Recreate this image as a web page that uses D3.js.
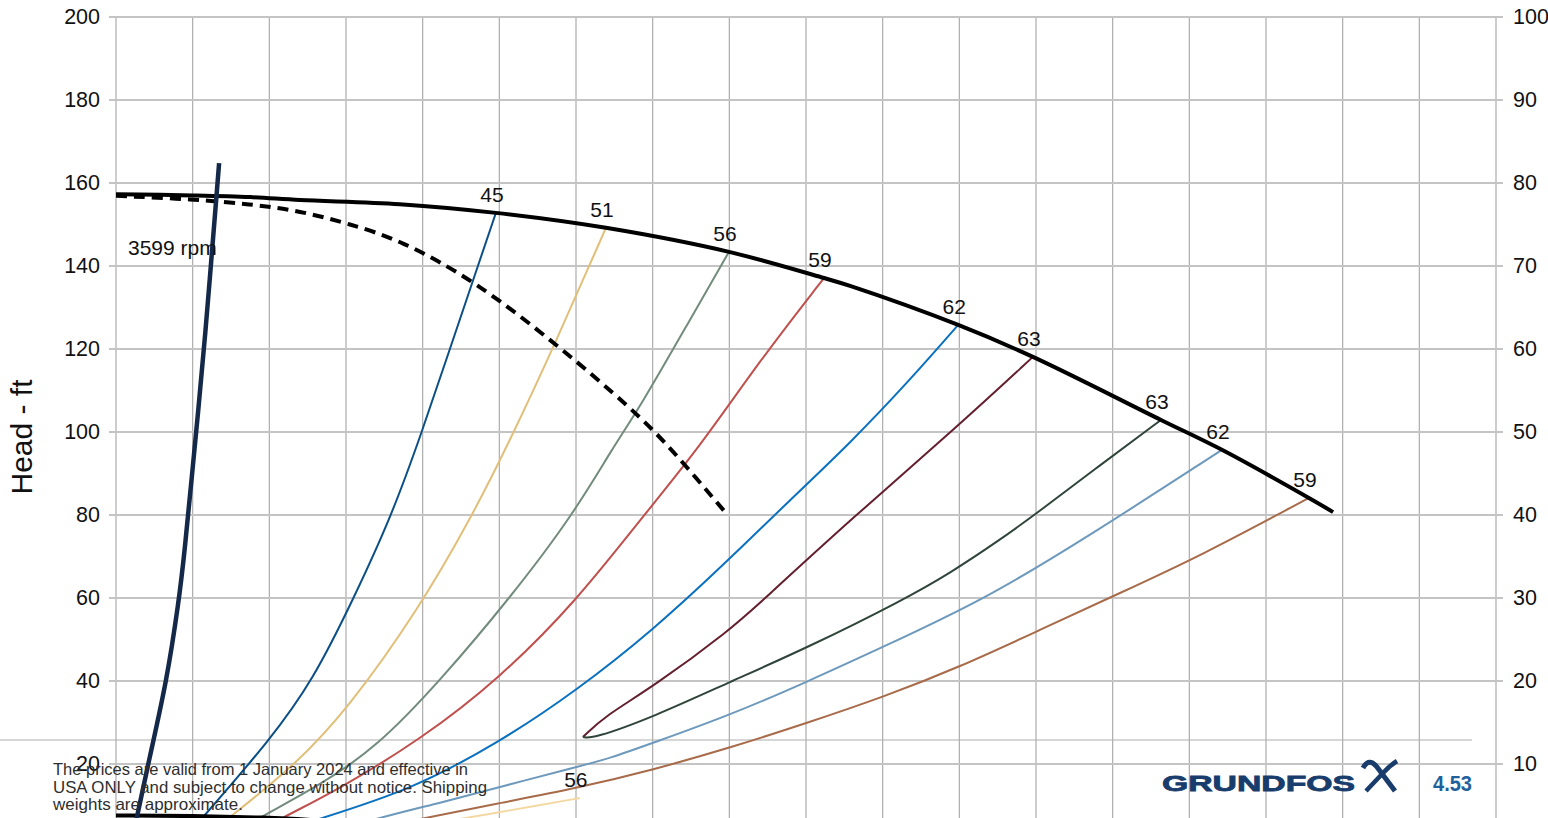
<!DOCTYPE html>
<html>
<head>
<meta charset="utf-8">
<script src="https://cdn.jsdelivr.net/npm/d3@7"></script>
<style>
  body { margin: 0; background: #fff; overflow: hidden; }
  text { font-family: "Liberation Sans", Arial, sans-serif; }
</style>
</head>
<body>
<svg id="chart" width="1548" height="818"></svg>
<script>
// tick values for the grid and both axes
const flowTicks = [0,20,40,60,80,100,120,140,160,180,200,220,240,260,280,300,320,340,360];
const headTicks = [20,40,60,80,100,120,140,160,180,200];
const rightTicks = [10,20,30,40,50,60,70,80,90,100];

// pump curve at full diameter and the dashed reduced curve  [flow, head ft]
const headCurve = [[0,157.3],[20,157.0],[35,156.6],[48,155.9],[74,154.9],[99.1,152.8],[127.8,149.2],
  [159.9,143.4],[184.7,137.1],[191.5,135.2],[219.7,125.8],[239.2,118.1],[272.6,102.9],
  [288.5,95.7],[311.2,84.1],[317.5,80.7]];
const dashedCurve = [[0,156.9],[20.1,156.1],[35,154.9],[48,153.3],[61,150.1],[74.1,146.3],
  [93.7,136.4],[115.8,120.5],[134.9,105.3],[144.5,96.4],[158.9,80.7]];
const speedLine = [[26.9,164.8],[23.0,119.8],[20.9,100],[17.7,69.2],[16.4,59.5],[13.3,40.2],
  [8.6,21.0],[5.5,7.2],[3.7,0]];
const bottomCurve = [[0,7.6],[20,7.5],[40,7.1],[50,6.6],[60,5.8]];

// iso-efficiency lines (percent), each ends on the pump curve
const eta45 = [[15.9,0],[22.7,7.2],[40.2,25.8],[51.4,40.2],[61.8,59.5],[72.0,80.0],[79.8,100.0],
  [87.1,120.0],[94.4,140.0],[99.1,152.8]];
const eta51 = [[19.8,0],[29.7,7.2],[46.2,19.3],[60.3,33.0],[79.3,57.8],[92.3,78.8],[102.0,96.4],
  [115.0,122.2],[127.8,149.2]];
const eta56 = [[24.5,0],[37.6,7.2],[53.2,14.9],[68.1,24.1],[84.5,40.0],[102.8,60.0],[119.2,80.0],
  [129.7,96.4],[136.7,106.0],[149.7,127.0],[159.9,143.4]];
const eta59 = [[29.7,0],[43.6,7.2],[57.7,13.7],[79.3,25.8],[100.2,40.7],[120.3,59.5],[136.7,78.8],
  [152.3,96.4],[168.0,117.3],[184.7,137.1]];
const eta62 = [[30.0,0],[54.5,7.2],[76.7,13.7],[100.2,25.3],[120.3,37.8],[140.1,52.3],[157.6,67.2],
  [175.8,83.6],[191.5,97.3],[207.1,112.5],[219.7,125.8]];
const eta63a = [[121.8,26.5],[127.6,31.6],[140.1,38.6],[160.2,52.3],[168.8,59.5],[191.5,78.8],
  [219.4,101.2],[239.2,118.1]];
const eta63b = [[121.8,26.5],[124.4,26.1],[140.1,31.3],[160.2,39.8],[180.3,48.0],[205.3,59.5],
  [217.6,66.0],[230.6,74.0],[240.3,80.5],[256.7,92.0],[272.6,102.9]];
const eta62b = [[42.8,0],[68.9,7.2],[84.5,10.6],[100.2,14.5],[120.3,19.3],[128.9,21.4],[140.1,25.1],
  [160.2,31.8],[180.3,39.8],[200.1,48.2],[226.2,59.5],[252.3,74.0],[288.5,95.7]];
const eta59b = [[42.8,0],[81.9,7.2],[100.2,10.6],[120.3,14.2],[140.1,18.6],[160.2,23.9],[180.3,29.9],
  [200.1,36.1],[220.2,43.4],[241.0,52.3],[261.9,61.2],[282.8,70.1],[311.2,84.1]];
const eta56b = [[48.0,0],[92.3,7.2],[100.2,8.4],[121.0,11.8]];

const isoLabels = ["45","51","56","59","62","63","63","62","59","56"];
const isoSeries = [eta45, eta51, eta56, eta59, eta62, eta63a, eta63b, eta62b, eta59b, eta56b];
const isoColors = ["#0b4f86","#e2bf78","#728b7d","#c0504d","#0a70c0","#641f2e","#2f443a","#6d99bd","#a86b4a","#f4d8a2"];

const rpmLabel = "3599 rpm";
const footerLines = ["The prices are valid from 1 January 2024 and effective in",
  "USA ONLY and subject to change without notice. Shipping",
  "weights are approximate."];

const svg = d3.select("#chart");
const plotLeft = 116, plotRight = 1496, plotTop = 17, plotBottom = 818;

const x = d3.scaleLinear().domain([0, 360]).range([plotLeft, plotRight]);
const y = d3.scaleLinear().domain([0, 200]).range([847, plotTop]);
const y2 = d3.scaleLinear().domain([0, 100]).range([847, plotTop]);

svg.append("defs").append("clipPath").attr("id", "plot")
  .append("rect").attr("x", plotLeft).attr("y", plotTop)
  .attr("width", plotRight - plotLeft).attr("height", plotBottom - plotTop);

// page separator line behind the chart
svg.append("line")
  .attr("x1", 0).attr("x2", 1472).attr("y1", 740).attr("y2", 740)
  .attr("stroke", "#d6d6d6").attr("stroke-width", 2);

// grid
svg.append("g").selectAll("line").data(flowTicks).enter().append("line")
  .attr("x1", d => x(d)).attr("x2", d => x(d))
  .attr("y1", plotTop).attr("y2", plotBottom)
  .attr("stroke", "#acacac").attr("stroke-width", 1.2);

svg.append("g").selectAll("line").data(headTicks).enter().append("line")
  .attr("x1", plotLeft - 7).attr("x2", plotRight + 7)
  .attr("y1", d => y(d)).attr("y2", d => y(d))
  .attr("stroke", "#c4c4c4").attr("stroke-width", 1.8);

// axes labels
const leftAxis = d3.axisLeft(y).tickValues(headTicks).tickSize(0).tickPadding(16);
svg.append("g").attr("transform", `translate(${plotLeft},0)`).call(leftAxis)
  .call(g => g.select(".domain").remove())
  .selectAll("text").attr("font-size", 21.5).attr("fill", "#111")
  .attr("font-family", "Liberation Sans, Arial, sans-serif");

const rightAxis = d3.axisRight(y2).tickValues(rightTicks).tickSize(0).tickPadding(17);
svg.append("g").attr("transform", `translate(${plotRight},0)`).call(rightAxis)
  .call(g => g.select(".domain").remove())
  .selectAll("text").attr("font-size", 21.5).attr("fill", "#111")
  .attr("font-family", "Liberation Sans, Arial, sans-serif");

svg.append("text")
  .attr("transform", "translate(32,437) rotate(-90)")
  .attr("text-anchor", "middle")
  .attr("font-size", 30).attr("fill", "#111")
  .text("Head - ft");

// smooth lines: the pump curve goes through its points, the rest are smoothed
const headLine = d3.line()
  .x(d => x(d[0])).y(d => y(d[1]))
  .curve(d3.curveCatmullRom.alpha(0.5));
const smoothLine = d3.line()
  .x(d => x(d[0])).y(d => y(d[1]))
  .curve(d3.curveBasis);

const plot = svg.append("g").attr("clip-path", "url(#plot)");

// iso efficiency curves
plot.selectAll(".iso").data(isoSeries).enter().append("path")
  .attr("class", "iso")
  .attr("d", d => smoothLine(d))
  .attr("fill", "none")
  .attr("stroke", (d, i) => isoColors[i])
  .attr("stroke-width", 2);

plot.append("path").attr("d", smoothLine(dashedCurve))
  .attr("fill", "none").attr("stroke", "#000")
  .attr("stroke-width", 4).attr("stroke-dasharray", "11,7");

plot.append("path").attr("d", headLine(headCurve))
  .attr("fill", "none").attr("stroke", "#000").attr("stroke-width", 4);

plot.append("path").attr("d", smoothLine(bottomCurve))
  .attr("fill", "none").attr("stroke", "#000").attr("stroke-width", 4);

plot.append("path").attr("d", smoothLine(speedLine))
  .attr("fill", "none").attr("stroke", "#14294a").attr("stroke-width", 4.5);

// labels at the top end of each iso line
svg.append("g").selectAll("text").data(isoSeries).enter().append("text")
  .attr("x", d => x(d[d.length - 1][0]) - 4)
  .attr("y", d => y(d[d.length - 1][1]) - 11)
  .attr("text-anchor", "middle")
  .attr("font-size", 21).attr("fill", "#111")
  .text((d, i) => isoLabels[i]);

svg.append("text")
  .attr("x", 128).attr("y", 255)
  .attr("font-size", 21).attr("fill", "#111")
  .text(rpmLabel);

// footer
svg.append("g").selectAll("text").data(footerLines).enter().append("text")
  .attr("x", 53).attr("y", (d, i) => 775 + i * 17.5)
  .attr("font-family", "Liberation Sans Narrow, Liberation Sans, sans-serif")
  .attr("font-size", 16.5).attr("fill", "#2e2e2e")
  .attr("textLength", (d, i) => [415, 434, 190][i])
  .attr("lengthAdjust", "spacingAndGlyphs")
  .text(d => d);

// logo
const logo = svg.append("g");
logo.append("text")
  .attr("x", 1162).attr("y", 791)
  .attr("font-family", "DejaVu Sans, sans-serif").attr("font-weight", "bold")
  .attr("font-size", 22).attr("fill", "#183d6d")
  .attr("stroke", "#183d6d").attr("stroke-width", 0.8)
  .attr("textLength", 193).attr("lengthAdjust", "spacingAndGlyphs")
  .text("GRUNDFOS");
logo.append("path")
  .attr("d", "M1363,768 Q1369,757 1377,767 L1395,791")
  .attr("fill", "none").attr("stroke", "#183d6d").attr("stroke-width", 5);
logo.append("path")
  .attr("d", "M1366,791 L1383,773 Q1389,766 1397,761")
  .attr("fill", "none").attr("stroke", "#183d6d").attr("stroke-width", 4.5);
logo.append("text")
  .attr("x", 1433).attr("y", 791)
  .attr("font-family", "Liberation Sans Narrow, Liberation Sans, sans-serif")
  .attr("font-weight", "bold")
  .attr("font-size", 22).attr("fill", "#22609c")
  .attr("textLength", 39).attr("lengthAdjust", "spacingAndGlyphs")
  .text("4.53");
</script>
</body>
</html>
